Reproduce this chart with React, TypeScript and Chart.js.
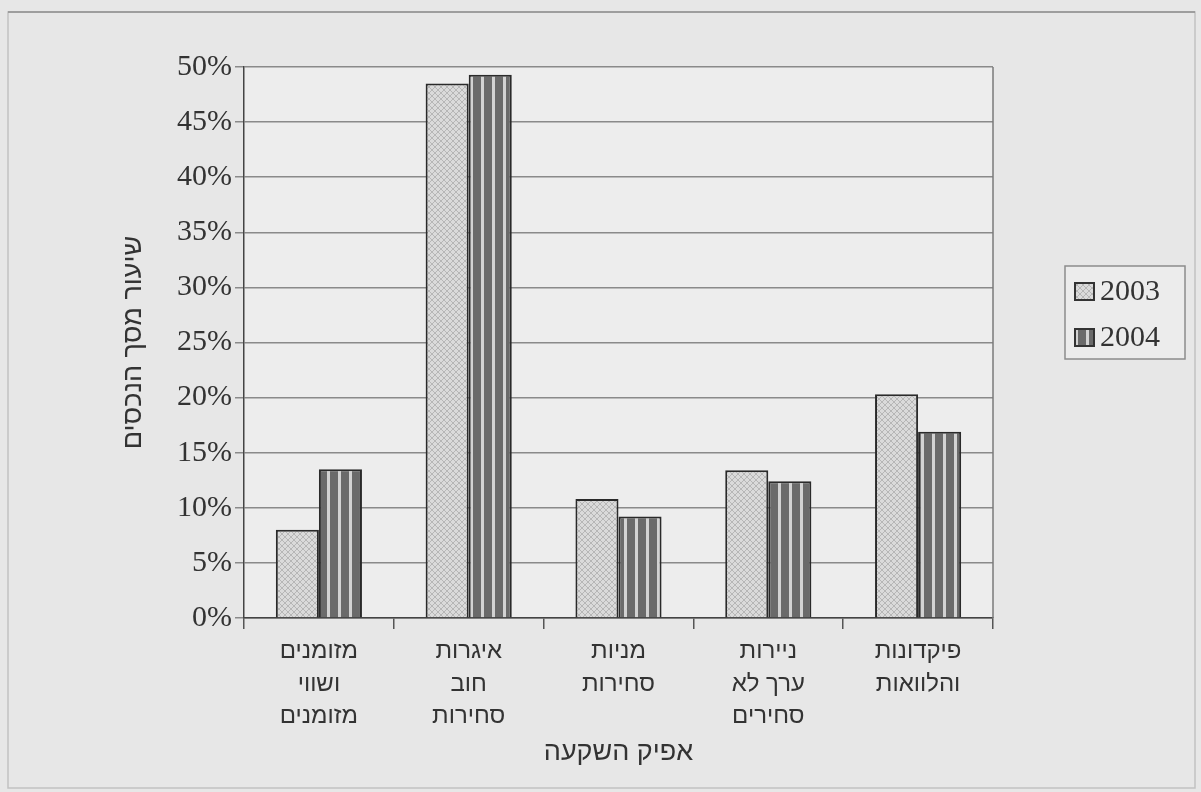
import { useEffect, useRef } from "react";
import { Chart, registerables } from "chart.js";

Chart.register(...registerables);

// ---- data ----
const categories: string[][] = [
  ["מזומנים", "ושווי", "מזומנים"],
  ["איגרות", "חוב", "סחירות"],
  ["מניות", "סחירות"],
  ["ניירות", "ערך לא", "סחירים"],
  ["פיקדונות", "והלוואות"],
];
const seriesNames = ["2003", "2004"];
const values2003 = [8.0, 48.5, 10.8, 13.4, 20.3];
const values2004 = [13.5, 49.3, 9.2, 12.4, 16.9];
const yMin = 0;
const yMax = 50;
const yStep = 5;
const xTitle = "אפיק השקעה";
const yTitle = "שיעור מסך הנכסים";

const HEB = '"Liberation Sans", "DejaVu Sans", sans-serif';
const SERIF = '"Liberation Serif", "DejaVu Serif", serif';

function makeCrossPattern(ctx: CanvasRenderingContext2D) {
  const c = document.createElement("canvas");
  c.width = 6;
  c.height = 6;
  const g = c.getContext("2d")!;
  g.fillStyle = "#dadada";
  g.fillRect(0, 0, 6, 6);
  g.strokeStyle = "#b6b6b6";
  g.lineWidth = 1;
  g.beginPath();
  g.moveTo(0, 0);
  g.lineTo(6, 6);
  g.moveTo(6, 0);
  g.lineTo(0, 6);
  g.stroke();
  return ctx.createPattern(c, "repeat")!;
}

function makeStripePattern(ctx: CanvasRenderingContext2D) {
  const c = document.createElement("canvas");
  c.width = 11;
  c.height = 4;
  const g = c.getContext("2d")!;
  g.fillStyle = "#6a6a6a";
  g.fillRect(0, 0, 11, 4);
  g.fillStyle = "#d2d2d2";
  g.fillRect(8, 0, 3, 4);
  return ctx.createPattern(c, "repeat")!;
}

const backgroundPlugin = {
  id: "bgFrame",
  beforeDraw(chart: any) {
    const { ctx, chartArea, width, height } = chart;
    ctx.save();
    ctx.fillStyle = "#e7e7e7";
    ctx.fillRect(0, 0, width, height);
    ctx.strokeStyle = "#c2c2c2";
    ctx.lineWidth = 1.5;
    ctx.strokeRect(8, 12, 1187, 776);
    ctx.strokeStyle = "#8f8f8f";
    ctx.beginPath();
    ctx.moveTo(8, 12);
    ctx.lineTo(1195, 12);
    ctx.stroke();
    ctx.fillStyle = "#ededed";
    ctx.fillRect(chartArea.left, chartArea.top, chartArea.right - chartArea.left, chartArea.bottom - chartArea.top);
    ctx.restore();
  },
  afterDraw(chart: any) {
    const { ctx, chartArea } = chart;
    ctx.save();
    ctx.strokeStyle = "#7a7a7a";
    ctx.lineWidth = 1.5;
    ctx.beginPath();
    ctx.moveTo(chartArea.right, chartArea.top);
    ctx.lineTo(chartArea.right, chartArea.bottom);
    ctx.stroke();

    // legend
    const bx = 1065, by = 266, bw = 120, bh = 93;
    ctx.fillStyle = "#ececec";
    ctx.fillRect(bx, by, bw, bh);
    ctx.strokeStyle = "#8c8c8c";
    ctx.lineWidth = 1.5;
    ctx.strokeRect(bx, by, bw, bh);
    chart.data.datasets.forEach((ds: any, i: number) => {
      const cy = by + 25 + i * 46;
      ctx.fillStyle = ds.backgroundColor;
      ctx.fillRect(bx + 10, cy - 8, 19, 17);
      ctx.strokeStyle = "#333";
      ctx.lineWidth = 2;
      ctx.strokeRect(bx + 10, cy - 8, 19, 17);
      ctx.fillStyle = "#333";
      ctx.font = `30px ${SERIF}`;
      ctx.textBaseline = "middle";
      ctx.textAlign = "left";
      ctx.fillText(ds.label, bx + 35, cy + 1);
    });
    ctx.restore();
  },
};

export default function App() {
  const ref = useRef<HTMLCanvasElement | null>(null);

  useEffect(() => {
    const canvas = ref.current!;
    const ctx = canvas.getContext("2d")!;
    const cross = makeCrossPattern(ctx);
    const stripes = makeStripePattern(ctx);

    const chart = new Chart(canvas, {
      type: "bar",
      data: {
        labels: categories,
        datasets: [
          {
            label: seriesNames[0],
            data: values2003,
            backgroundColor: cross as any,
            borderColor: "#2a2a2a",
            borderWidth: 2,
            categoryPercentage: 0.575,
            barPercentage: 1.0,
          },
          {
            label: seriesNames[1],
            data: values2004,
            backgroundColor: stripes as any,
            borderColor: "#2a2a2a",
            borderWidth: 2,
            categoryPercentage: 0.575,
            barPercentage: 1.0,
          },
        ],
      },
      options: {
        animation: false,
        responsive: false,
        devicePixelRatio: 1,
        layout: { padding: { left: 110, top: 67, right: 208, bottom: 0 } },
        plugins: {
          legend: { display: false },
          tooltip: { enabled: false },
        },
        scales: {
          x: {
            offset: true,
            grid: {
              offset: true,
              drawOnChartArea: false,
              drawTicks: true,
              tickLength: 11,
              color: "#555",
              lineWidth: 1.5,
            },
            border: { display: true, color: "#444", width: 1.5 },
            ticks: {
              color: "#333",
              font: { family: HEB, size: 24, lineHeight: 1.36 },
              padding: 6,
              maxRotation: 0,
              autoSkip: false,
            },
            title: {
              display: true,
              text: xTitle,
              color: "#333",
              font: { family: HEB, size: 27, lineHeight: 1.2 },
              padding: { top: 2, bottom: 23 },
            },
            afterFit(scale: any) {
              scale.height = 174;
            },
          },
          y: {
            min: yMin,
            max: yMax,
            ticks: {
              stepSize: yStep,
              color: "#333",
              font: { family: SERIF, size: 30 },
              padding: 3,
              callback: (v: any) => `${v}%`,
            },
            grid: {
              color: "#8a8a8a",
              lineWidth: 1.5,
              drawTicks: true,
              tickLength: 9,
            },
            border: { display: true, color: "#444", width: 1.5 },
            title: {
              display: true,
              text: yTitle,
              color: "#333",
              font: { family: HEB, size: 27, lineHeight: 1.2 },
              padding: { top: 7, bottom: 0 },
            },
            afterFit(scale: any) {
              scale.width = 134;
            },
          },
        },
      },
      plugins: [backgroundPlugin],
    });

    return () => chart.destroy();
  }, []);

  return (
    <div style={{ position: "absolute", left: 0, top: 0, width: 1201, height: 792, background: "#e7e7e7" }}>
      <canvas ref={ref} width={1201} height={792} style={{ display: "block", width: 1201, height: 792 }} />
    </div>
  );
}
